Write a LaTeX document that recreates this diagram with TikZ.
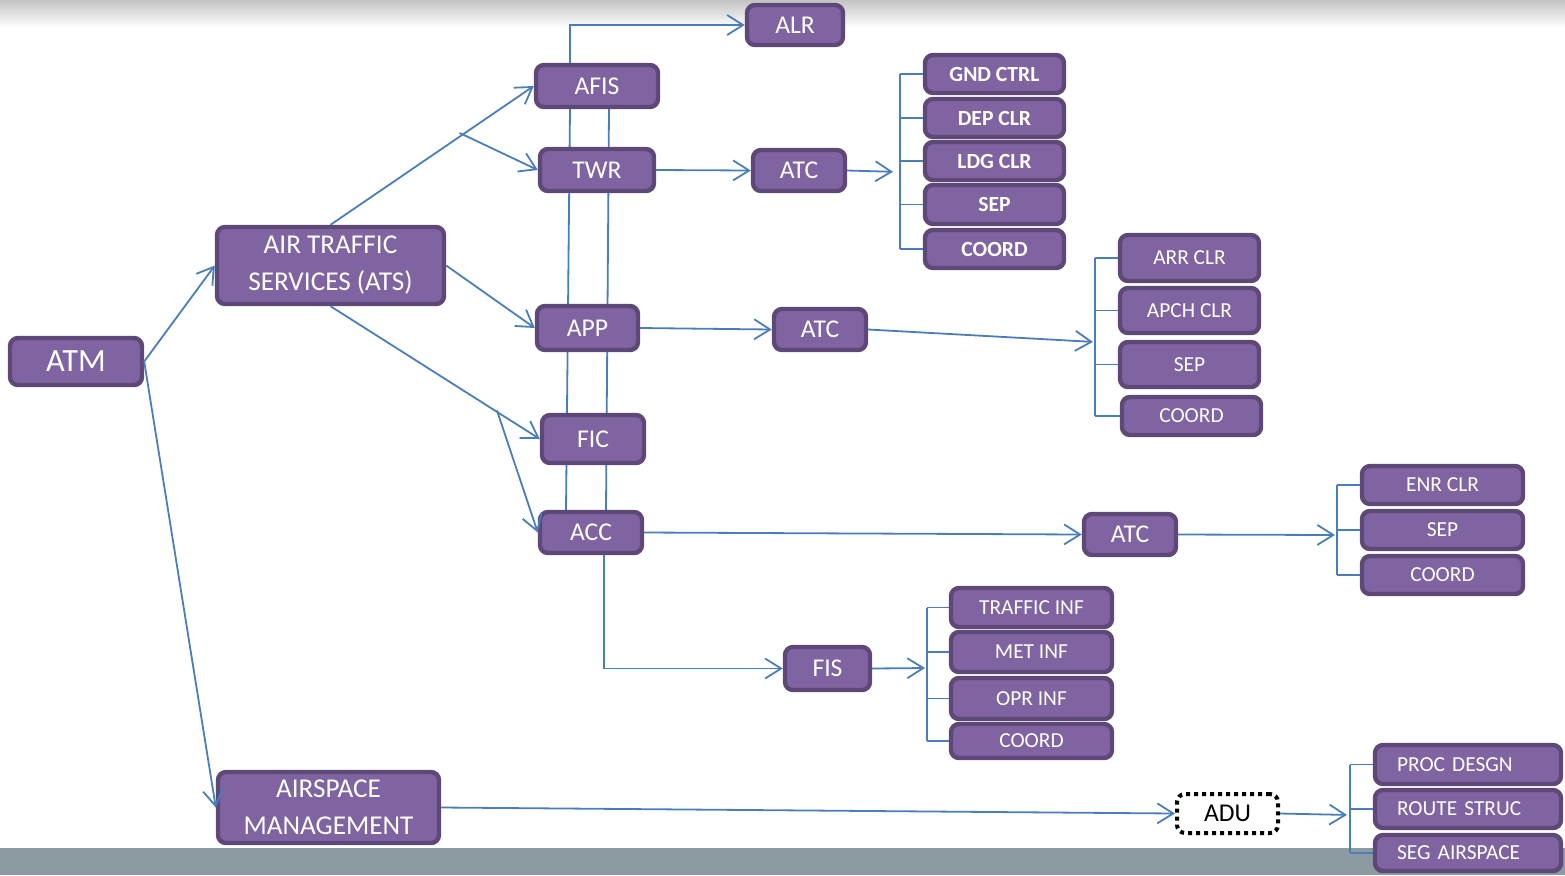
\documentclass[tikz,border=0pt]{standalone}
\usepackage{fontspec}
\setmainfont{Carlito}
\usetikzlibrary{arrows.meta,calc,backgrounds}
\definecolor{boxfill}{HTML}{8064A2}
\definecolor{boxline}{HTML}{5D4878}
\definecolor{linkblue}{HTML}{4A7EBB}
\definecolor{footbar}{HTML}{8C9AA2}
\definecolor{topshade}{HTML}{C4C4C4}

\begin{document}
\begin{tikzpicture}[x=0.5pt,y=-0.5pt,
  box/.style={draw=boxline, fill=boxfill, line width=2.2pt, rounded corners=4pt,
    text=white, inner sep=0pt, align=center, font=\fontsize{12.8}{14}\selectfont},
  bigbox/.style={box, font=\fontsize{13.6}{18.5}\selectfont},
  small/.style={box, font=\fontsize{10.7}{12}\selectfont},
  smallb/.style={box, font=\fontsize{10.8}{12}\selectfont\bfseries},
  leftbox/.style={small, align=left, text width=71pt, inner xsep=11pt},
  dotbox/.style={draw=black, fill=white, line width=2pt, dash pattern=on 2pt off 2pt,
    rounded corners=4pt, inner sep=0pt, font=\fontsize{12.8}{14}\selectfont},
  link/.style={draw=linkblue, line width=0.9pt},
  arr/.style={link, -{Straight Barb[length=8pt,width=10pt,line width=0.9pt]}},
]
\useasboundingbox (0,0) rectangle (1565,875);

% main tree
\node[box, font=\fontsize{16.2}{18}\selectfont, minimum width=66pt, minimum height=23.5pt] (atm) at (76,361.5) {ATM};
\node[bigbox, minimum width=113.5pt, minimum height=38.5pt] (ats) at (330.5,265.5) {AIR TRAFFIC\\SERVICES (ATS)};
\node[bigbox, minimum width=110.5pt, minimum height=35.5pt] (asm) at (328.5,807.5) {AIRSPACE\\MANAGEMENT};

\node[box, minimum width=61pt, minimum height=21pt] (afis) at (597,86) {AFIS};
\node[box, minimum width=57pt, minimum height=21pt] (twr) at (597,170) {TWR};
\node[box, minimum width=50.5pt, minimum height=22pt] (app) at (587.5,328) {APP};
\node[box, minimum width=51pt, minimum height=24pt] (fic) at (593,439) {FIC};
\node[box, minimum width=51pt, minimum height=20.5pt] (acc) at (591,532.5) {ACC};

\node[box, minimum width=48pt, minimum height=20pt] (alr) at (795,25) {ALR};
\node[box, minimum width=46pt, minimum height=20.5pt] (atc1) at (799,170.5) {ATC};
\node[box, minimum width=46pt, minimum height=20.5pt] (atc2) at (820,329.5) {ATC};
\node[box, minimum width=46pt, minimum height=20.5pt] (atc3) at (1130,534.5) {ATC};
\node[box, minimum width=42.5pt, minimum height=21.5pt] (fis) at (827.5,668.5) {FIS};
\node[dotbox, minimum width=50.5pt, minimum height=19.5pt] (adu) at (1227.5,813.5) {ADU};

% aerodrome control tasks
\node[smallb, minimum width=69.5pt, minimum height=19pt] (gnd) at (994.5,74) {GND CTRL};
\node[smallb, minimum width=69.5pt, minimum height=19pt] (dep) at (994.5,118) {DEP CLR};
\node[smallb, minimum width=69.5pt, minimum height=19pt] (ldg) at (994.5,161) {LDG CLR};
\node[smallb, minimum width=69.5pt, minimum height=19.5pt] (sepa) at (994.5,204.5) {SEP};
\node[smallb, minimum width=69.5pt, minimum height=19pt] (coora) at (994.5,249) {COORD};

% approach control tasks
\node[small, minimum width=69.5pt, minimum height=23pt] (arr) at (1189.5,258) {ARR CLR};
\node[small, minimum width=69.5pt, minimum height=22.5pt] (apch) at (1189.5,310.5) {APCH CLR};
\node[small, minimum width=69.5pt, minimum height=22.5pt] (sepb) at (1189.5,364.5) {SEP};
\node[small, minimum width=69.5pt, minimum height=19pt] (coorb) at (1191.5,416) {COORD};

% area control tasks
\node[small, minimum width=80.5pt, minimum height=19pt] (enr) at (1442.5,485) {ENR CLR};
\node[small, minimum width=80.5pt, minimum height=19pt] (sepc) at (1442.5,530) {SEP};
\node[small, minimum width=80.5pt, minimum height=19pt] (coorc) at (1442.5,575) {COORD};

% flight information tasks
\node[small, minimum width=80.5pt, minimum height=19.5pt] (traf) at (1031.5,607.5) {TRAFFIC INF};
\node[small, minimum width=80.5pt, minimum height=20pt] (met) at (1031.5,652) {MET INF};
\node[small, minimum width=80.5pt, minimum height=20.5pt] (opr) at (1031.5,698.5) {OPR INF};
\node[small, minimum width=80.5pt, minimum height=17pt] (coord) at (1031.5,741) {COORD};

% airspace design tasks
\node[leftbox, minimum height=19.5pt] (proc) at (1468,764.5) {PROC DESGN};
\node[leftbox, minimum height=19pt] (route) at (1468,809) {ROUTE STRUC};
\node[leftbox, minimum height=18pt] (seg) at (1468,853) {SEG AIRSPACE};

% bracket points
\coordinate (b1) at (900,172);
\coordinate (b2) at (1095,342);
\coordinate (b3) at (1337,535);
\coordinate (b4) at (927,668);
\coordinate (b5) at (1350,815);

\begin{pgfonlayer}{background}
  \shade[top color=topshade, bottom color=white] (0,0) rectangle (1565,28);
  \fill[footbar] (0,848) rectangle (1565,875);
  % twin rails through the unit column
  \draw[link] ($(afis.south)+(-27,0)$) -- ($(acc.north)+(-25,0)$);
  \draw[link] ($(afis.south)+(12,0)$) -- ($(acc.north)+(15,0)$);
\end{pgfonlayer}

% connectors
\draw[arr] (atm.east) -- (ats.west);
\draw[arr] (atm.east) -- (asm.west);
\draw[arr] (ats.north) -- (afis.west);
\draw[arr] ($(ats.north)!0.64!(afis.west)+(-1,-3)$) -- (twr.west);
\draw[arr] (ats.east) -- (app.west);
\draw[arr] (ats.south) -- (fic.west);
\draw[arr] ($(ats.south)!0.8!(fic.west)+(-1,-2)$) -- (acc.west);
\draw[arr] ($(afis.north)+(-27,0)$) |- (alr.west);
\draw[arr] (twr.east) -- (atc1.west);
\draw[arr] (app.east) -- (atc2.west);
\draw[arr] (acc.east) -- (atc3.west);
\draw[arr] ($(acc.south)+(13,0)$) |- (fis.west);
\draw[arr] (asm.east) -- (adu.west);

\draw[arr, shorten >=3.5pt] (atc1.east) -- (b1);
\draw[arr, shorten >=1pt] (atc2.east) -- (b2);
\draw[arr, shorten >=1pt] (atc3.east) -- (b3);
\draw[arr, shorten >=1pt] (fis.east) -- (b4);
\draw[arr, shorten >=1.5pt] (adu.east) -- (b5);

% brackets
\draw[link] (b1 |- gnd.west) -- (b1 |- coora.west);
\foreach \n in {gnd,dep,ldg,sepa,coora} \draw[link] (b1 |- \n.west) -- (\n.west);
\draw[link] (b2 |- arr.west) -- (b2 |- coorb.west);
\foreach \n in {arr,apch,sepb,coorb} \draw[link] (b2 |- \n.west) -- (\n.west);
\draw[link] (b3 |- enr.west) -- (b3 |- coorc.west);
\foreach \n in {enr,sepc,coorc} \draw[link] (b3 |- \n.west) -- (\n.west);
\draw[link] (b4 |- traf.west) -- (b4 |- coord.west);
\foreach \n in {traf,met,opr,coord} \draw[link] (b4 |- \n.west) -- (\n.west);
\draw[link] (b5 |- proc.west) -- (b5 |- seg.west);
\foreach \n in {proc,route,seg} \draw[link] (b5 |- \n.west) -- (\n.west);
\end{tikzpicture}
\end{document}
